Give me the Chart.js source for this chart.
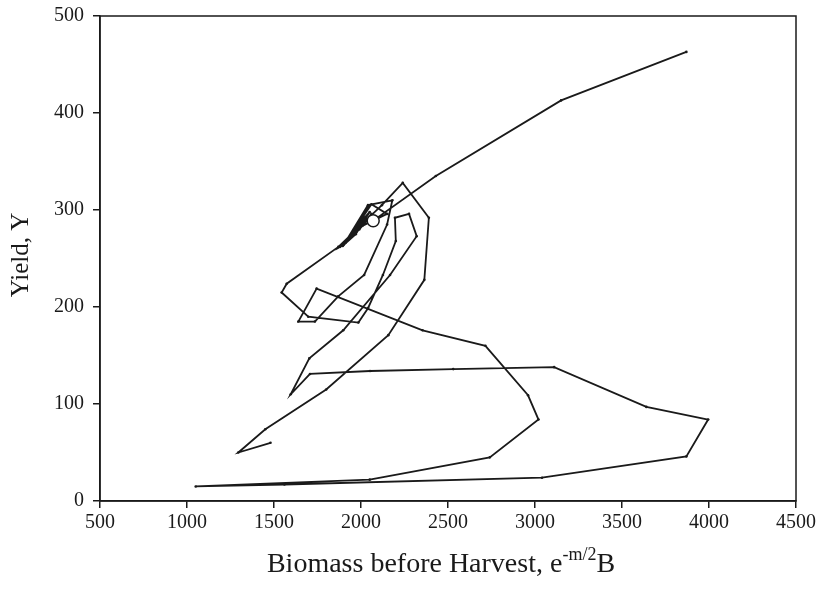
<!DOCTYPE html>
<html>
<head>
<meta charset="utf-8">
<script src="https://cdn.jsdelivr.net/npm/chart.js@4.4.1/dist/chart.umd.min.js"></script>
<style>
    html, body { margin: 0; padding: 0; background: #fff; }
    #wrap { width: 816px; height: 589px; }
</style>
</head>
<body>
<div id="wrap"><canvas id="phaseChart"></canvas></div>
<script>
// trajectory of biomass before harvest vs yield
const biomass = [
    1480, 1295, 1450, 1800, 2157, 2364, 2390, 2240, 2120, 1870,
    1573, 1544, 1697, 1985, 2041, 2126, 2200, 2195, 2276, 2320,
    2167, 1898, 1703, 1596, 1707, 2052, 2530, 3110, 3640, 3995,
    3870, 3040, 1560, 1050, 2050, 2740, 3020, 2960, 2715, 2354,
    1745, 1640, 1735, 1869, 2018, 2150, 2180, 2040, 1900, 1880,
    1990, 2150, 2060, 1910, 1960, 2040, 2000, 1895, 1970, 2050,
    2020, 1930, 2010, 2060, 2040, 1990, 2050, 2070,
    2430, 3150, 3870
];
const yieldY = [
    60, 50, 74, 115, 171, 228, 292, 328, 305, 262,
    224, 215, 190, 184, 199, 233, 268, 292, 296, 273,
    233, 176, 147, 110, 131, 134, 136, 138, 97, 84,
    46, 24, 17, 15, 22, 45, 84, 109, 160, 176,
    219, 185, 185, 211, 233, 285, 310, 305, 264, 262,
    282, 296, 306, 266, 280, 303, 288, 263, 275, 298,
    292, 270, 284, 296, 290, 280, 292, 289,
    335, 413, 463
];

// equilibrium point
const eqBiomass = 2070;
const eqYield = 289;

const xTicks = [500, 1000, 1500, 2000, 2500, 3000, 3500, 4000, 4500];
const yTicks = [0, 100, 200, 300, 400, 500];

const ink = '#1a1a1a';
const serif = 'Liberation Serif, Times New Roman, serif';

const path = biomass.map((b, i) => ({ x: b, y: yieldY[i] }));

// frame + axis titles (x title needs a superscript)
const decorations = {
    id: 'decorations',
    afterDraw(chart) {
        const { ctx, chartArea: a } = chart;
        ctx.save();
        ctx.strokeStyle = ink;
        ctx.lineWidth = 1.5;
        ctx.strokeRect(a.left, a.top, a.right - a.left, a.bottom - a.top);

        ctx.fillStyle = ink;
        ctx.font = '25px ' + serif;
        ctx.textBaseline = 'middle';
        ctx.textAlign = 'center';
        ctx.translate(21, 255);
        ctx.rotate(-Math.PI / 2);
        ctx.fillText('Yield, Y', 0, 0);
        ctx.restore();

        ctx.save();
        ctx.fillStyle = ink;
        ctx.textBaseline = 'alphabetic';
        const main = 'Biomass before Harvest, e';
        const sup = '-m/2';
        const tail = 'B';
        ctx.font = '28px ' + serif;
        const w1 = ctx.measureText(main).width;
        const w3 = ctx.measureText(tail).width;
        ctx.font = '18px ' + serif;
        const w2 = ctx.measureText(sup).width;
        let x = 441 - (w1 + w2 + w3) / 2;
        const y = 572;
        ctx.font = '28px ' + serif;
        ctx.fillText(main, x, y);
        x += w1;
        ctx.font = '18px ' + serif;
        ctx.fillText(sup, x, y - 12);
        x += w2;
        ctx.font = '28px ' + serif;
        ctx.fillText(tail, x, y);
        ctx.restore();
    }
};

new Chart(document.getElementById('phaseChart'), {
    type: 'scatter',
    data: {
        datasets: [
            {
                data: [{ x: eqBiomass, y: eqYield }],
                pointRadius: 6,
                pointBackgroundColor: '#fff',
                pointBorderColor: ink,
                pointBorderWidth: 1.5,
                order: 0
            },
            {
                data: path,
                showLine: true,
                borderColor: ink,
                borderWidth: 1.8,
                tension: 0,
                pointRadius: 1.3,
                pointBackgroundColor: ink,
                pointBorderWidth: 0,
                order: 1
            }
        ]
    },
    options: {
        responsive: true,
        maintainAspectRatio: false,
        animation: false,
        layout: { padding: { top: 16, right: 20, left: 0, bottom: 0 } },
        plugins: {
            legend: { display: false },
            tooltip: { enabled: false }
        },
        scales: {
            x: {
                type: 'linear',
                min: 500,
                max: 4500,
                afterBuildTicks: s => { s.ticks = xTicks.map(v => ({ value: v })); },
                afterFit: s => { s.height = 88; s.paddingLeft = 0; s.paddingRight = 0; },
                ticks: { color: ink, font: { family: serif, size: 20 }, padding: 3, maxRotation: 0, callback: v => String(v) },
                grid: { drawOnChartArea: false, tickLength: 7, color: ink, lineWidth: 1.5 },
                border: { color: ink, width: 1.5 }
            },
            y: {
                type: 'linear',
                min: 0,
                max: 500,
                afterBuildTicks: s => { s.ticks = yTicks.map(v => ({ value: v })); },
                afterFit: s => { s.width = 100; s.paddingTop = 0; s.paddingBottom = 0; },
                ticks: { color: ink, font: { family: serif, size: 20 }, padding: 9, callback: v => String(v) },
                grid: { drawOnChartArea: false, tickLength: 7, color: ink, lineWidth: 1.5 },
                border: { color: ink, width: 1.5 }
            }
        }
    },
    plugins: [decorations]
});
</script>
</body>
</html>
